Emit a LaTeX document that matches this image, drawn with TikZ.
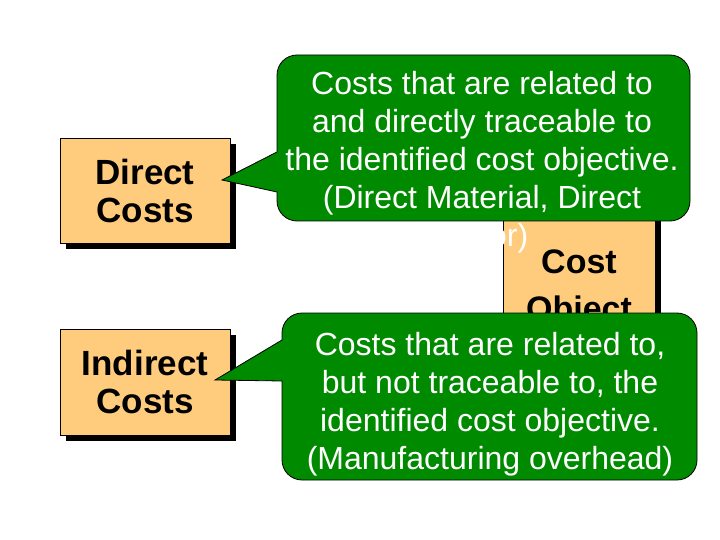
\documentclass[tikz,border=0pt]{standalone}
\usepackage{fontspec}
\setmainfont{Liberation Sans}
\usetikzlibrary{shadows}
\definecolor{boxfill}{RGB}{255,204,125}
\definecolor{calloutgreen}{RGB}{0,138,0}
\tikzset{
  costbox/.style={draw=black, line width=0.8pt, fill=boxfill, align=center,
    inner sep=0pt, font=\fontsize{35}{38}\selectfont\bfseries,
    drop shadow={shadow xshift=6pt, shadow yshift=-6pt, opacity=1, fill=black}},
  callout/.style={draw=black, line width=0.8pt, fill=calloutgreen},
  callouttext/.style={text=white, align=center, inner sep=0pt,
    font=\fontsize{32}{38}\selectfont}
}
\begin{document}
\begin{tikzpicture}[x=1pt, y=-1pt]
\useasboundingbox (0,0) rectangle (720,540);
% left boxes
\node[costbox, minimum width=170pt, minimum height=105pt] (direct) at (145,190.5) {Direct\\Costs};
\node[costbox, minimum width=170pt, minimum height=106pt] (indirect) at (145,382) {Indirect\\Costs};
% cost object box (mostly hidden)
\node[costbox, minimum width=152pt, minimum height=140pt] (object) at (579,270) {};
\node[font=\fontsize{34}{38}\selectfont\bfseries, anchor=base] (costtxt) at (579,273) {Cost};
\node[font=\fontsize{34}{38}\selectfont\bfseries, anchor=base] (objtxt) at (579,320) {Object};
% pointer tips
\coordinate (tip1) at (222,180);
\coordinate (tip2) at (215,380);
% callout 1
\draw[callout] (tip1) -- (277,192) -- (277,201) arc[start angle=180, end angle=90, radius=20]
  -- (670,221) arc[start angle=90, end angle=0, radius=20]
  -- (690,75) arc[start angle=0, end angle=-90, radius=20]
  -- (297,55) arc[start angle=-90, end angle=-180, radius=20]
  -- (277,152) -- cycle;
\node[callouttext] (text1) at (482,162) {Costs that are related to\\and directly traceable to\\the identified cost objective.\\(Direct Material, Direct\\Labor)};
% callout 2
\draw[callout] (tip2) -- (282,381) -- (282,460) arc[start angle=180, end angle=90, radius=20]
  -- (677,480) arc[start angle=90, end angle=0, radius=20]
  -- (697,333) arc[start angle=0, end angle=-90, radius=20]
  -- (302,313) arc[start angle=-90, end angle=-180, radius=20]
  -- (282,340) -- cycle;
\node[callouttext] (text2) at (490,404) {Costs that are related to,\\but not traceable to, the\\identified cost objective.\\(Manufacturing overhead)};
\end{tikzpicture}
\end{document}
